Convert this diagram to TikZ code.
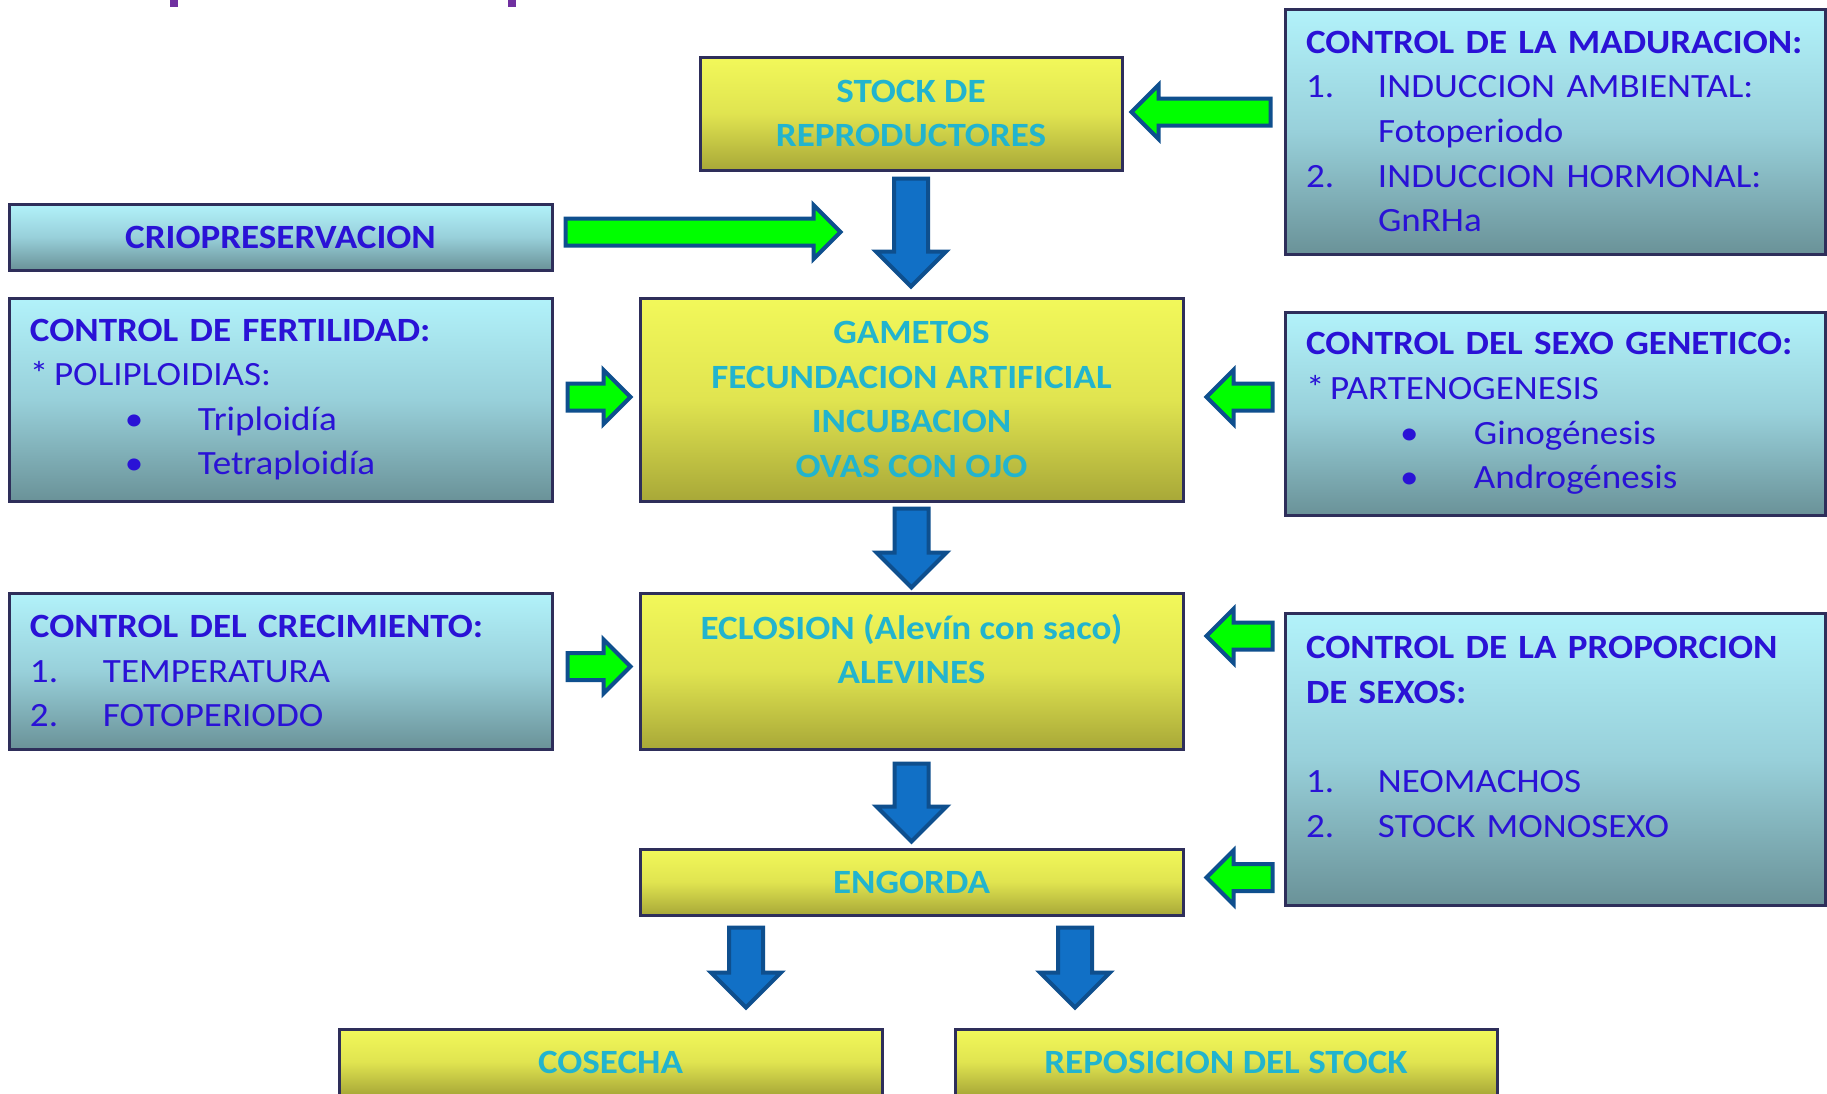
\documentclass[tikz,border=0pt]{standalone}
\usepackage{fontspec}
\setmainfont{Carlito}[FakeStretch=1.09]

\definecolor{boxtext}{HTML}{2A12D6}
\definecolor{stagetext}{HTML}{22B4CE}
\definecolor{edgedark}{HTML}{2E2E5A}
\definecolor{arrowblue}{HTML}{1170C6}
\definecolor{arrowedge}{HTML}{0E4F8E}
\definecolor{arrowgreen}{HTML}{00FF00}
\definecolor{titlepurple}{HTML}{7030A0}

\tikzset{
  stage/.style={draw=edgedark, line width=1.5pt, top color={rgb,255:red,242;green,248;blue,90},
    bottom color={rgb,255:red,168;green,168;blue,56}, middle color={rgb,255:red,224;green,228;blue,80},
    text=stagetext, align=center, inner sep=0pt,
    font=\fontsize{17}{22.3}\selectfont\bfseries},
  control/.style={draw=edgedark, line width=1.5pt, top color={rgb,255:red,178;green,242;blue,250},
    bottom color={rgb,255:red,106;green,146;blue,152}, middle color={rgb,255:red,152;green,208;blue,218},
    text=boxtext, align=left, inner xsep=10.5pt, inner ysep=0pt,
    font=\fontsize{17}{22.3}\selectfont},
  downarrow/.style={fill=arrowblue, draw=arrowedge, line width=2pt},
  sidearrow/.style={fill=arrowgreen, draw=arrowedge, line width=2pt}
}

\begin{document}
\begin{tikzpicture}[x=0.5pt, y=-0.5pt]
	\clip (0,0) rectangle (1827,1093);
	\fill[white] (0,0) rectangle (1827,1093);
	% bits of the cut title
	\fill[titlepurple] (170,0) rectangle (178,7);
	\fill[titlepurple] (508,0) rectangle (516,7);

	% main line
	\node[stage, minimum width=211pt, minimum height=56.5pt] (stock) at (911,113.5) {STOCK DE\\REPRODUCTORES};
	\node[stage, minimum width=271.5pt, minimum height=101.5pt] (gam) at (911.5,399.5) {GAMETOS\\FECUNDACION ARTIFICIAL\\INCUBACION\\OVAS CON OJO};
	\node[stage, minimum width=271.5pt, minimum height=78pt] (ecl) at (911.5,671) {ECLOSION (Alevín con saco)\\ALEVINES\\\mbox{}};
	\node[stage, minimum width=271.5pt, minimum height=33pt] (eng) at (911.5,882) {ENGORDA};
	\node[stage, minimum width=271.5pt, minimum height=33pt] (cos) at (610.5,1062) {COSECHA};
	\node[stage, minimum width=271pt, minimum height=33pt] (rep) at (1226,1062) {REPOSICION DEL STOCK};

	% left side
	\node[control, minimum width=271.5pt, minimum height=33pt, align=center, font=\fontsize{17}{22.3}\selectfont\bfseries] (crio) at (280.5,237) {CRIOPRESERVACION};
	\node[control, text width=250.5pt, minimum height=101.5pt] (fert) at (280.5,399.5) {\textbf{CONTROL DE FERTILIDAD:}\\{*}\,POLIPLOIDIAS:\\\hspace*{47.5pt}\makebox[36.5pt][l]{•}Triploidía\\\hspace*{47.5pt}\makebox[36.5pt][l]{•}Tetraploidía};
	\node[control, text width=250.5pt, minimum height=78pt] (crec) at (280.5,671) {\textbf{CONTROL DEL CRECIMIENTO:}\\\makebox[36.5pt][l]{1.}TEMPERATURA\\\makebox[36.5pt][l]{2.}FOTOPERIODO};

	% right side
	\node[control, text width=249pt, minimum height=122.5pt] (madur) at (1555,131.5) {\textbf{CONTROL DE LA MADURACION:}\\\makebox[36pt][l]{1.}INDUCCION AMBIENTAL:\\\hspace*{36pt}Fotoperiodo\\\makebox[36pt][l]{2.}INDUCCION HORMONAL:\\\hspace*{36pt}GnRHa};
	\node[control, text width=249pt, minimum height=101.5pt] (sexo) at (1555,413.5) {\textbf{CONTROL DEL SEXO GENETICO:}\\{*}\,PARTENOGENESIS\\\hspace*{47pt}\makebox[37pt][l]{•}Ginogénesis\\\hspace*{47pt}\makebox[37pt][l]{•}Androgénesis};
	\node[control, text width=249pt, minimum height=146pt] (prop) at (1555,759) {\textbf{CONTROL DE LA PROPORCION}\\\textbf{DE SEXOS:}\\\mbox{}\\\makebox[36pt][l]{1.}NEOMACHOS\\\makebox[36pt][l]{2.}STOCK MONOSEXO\\\mbox{}};

	% blue arrows down
	\draw[downarrow] (stock.south) ++(-17,7) -- ++(34,0) -- ++(0,73) -- ++(18,0) -- ++(-35,35) -- ++(-35,-35) -- ++(18,0) -- cycle;
	\draw[downarrow] (gam.south) ++(-17,6) -- ++(34,0) -- ++(0,44) -- ++(18,0) -- ++(-35,35) -- ++(-35,-35) -- ++(18,0) -- cycle;
	\draw[downarrow] (ecl.south) ++(-17,13) -- ++(34,0) -- ++(0,43) -- ++(18,0) -- ++(-35,35) -- ++(-35,-35) -- ++(18,0) -- cycle;
	\draw[downarrow] (eng.south) ++(-182.5,11) -- ++(34,0) -- ++(0,45) -- ++(18,0) -- ++(-35,35) -- ++(-35,-35) -- ++(18,0) -- cycle;
	\draw[downarrow] (eng.south) ++(146.5,11) -- ++(34,0) -- ++(0,45) -- ++(18,0) -- ++(-35,35) -- ++(-35,-35) -- ++(18,0) -- cycle;

	% green arrows, left to right
	\draw[sidearrow] (crio.east) ++(12,-18.5) -- ++(248,0) -- ++(0,-13.5) -- ++(27,27) -- ++(-27,27) -- ++(0,-13.5) -- ++(-248,0) -- cycle;
	\draw[sidearrow] (fert.east) ++(14,-16) -- ++(36,0) -- ++(0,-13.5) -- ++(27,27) -- ++(-27,27) -- ++(0,-13.5) -- ++(-36,0) -- cycle;
	\draw[sidearrow] (crec.east) ++(14,-18) -- ++(36,0) -- ++(0,-13.5) -- ++(27,27) -- ++(-27,27) -- ++(0,-13.5) -- ++(-36,0) -- cycle;

	% green arrows, right to left
	\draw[sidearrow] (madur.west) ++(-13,-33) -- ++(-112,0) -- ++(0,-13.5) -- ++(-27,27) -- ++(27,27) -- ++(0,-13.5) -- ++(112,0) -- cycle;
	\draw[sidearrow] (sexo.west) ++(-11,-30) -- ++(-39,0) -- ++(0,-13.5) -- ++(-27,27) -- ++(27,27) -- ++(0,-13.5) -- ++(39,0) -- cycle;
	\draw[sidearrow] (prop.west) ++(-11,-136.5) -- ++(-39,0) -- ++(0,-13.5) -- ++(-27,27) -- ++(27,27) -- ++(0,-13.5) -- ++(39,0) -- cycle;
	\draw[sidearrow] (prop.west) ++(-11,105) -- ++(-39,0) -- ++(0,-13.5) -- ++(-27,27) -- ++(27,27) -- ++(0,-13.5) -- ++(39,0) -- cycle;
\end{tikzpicture}
\end{document}
